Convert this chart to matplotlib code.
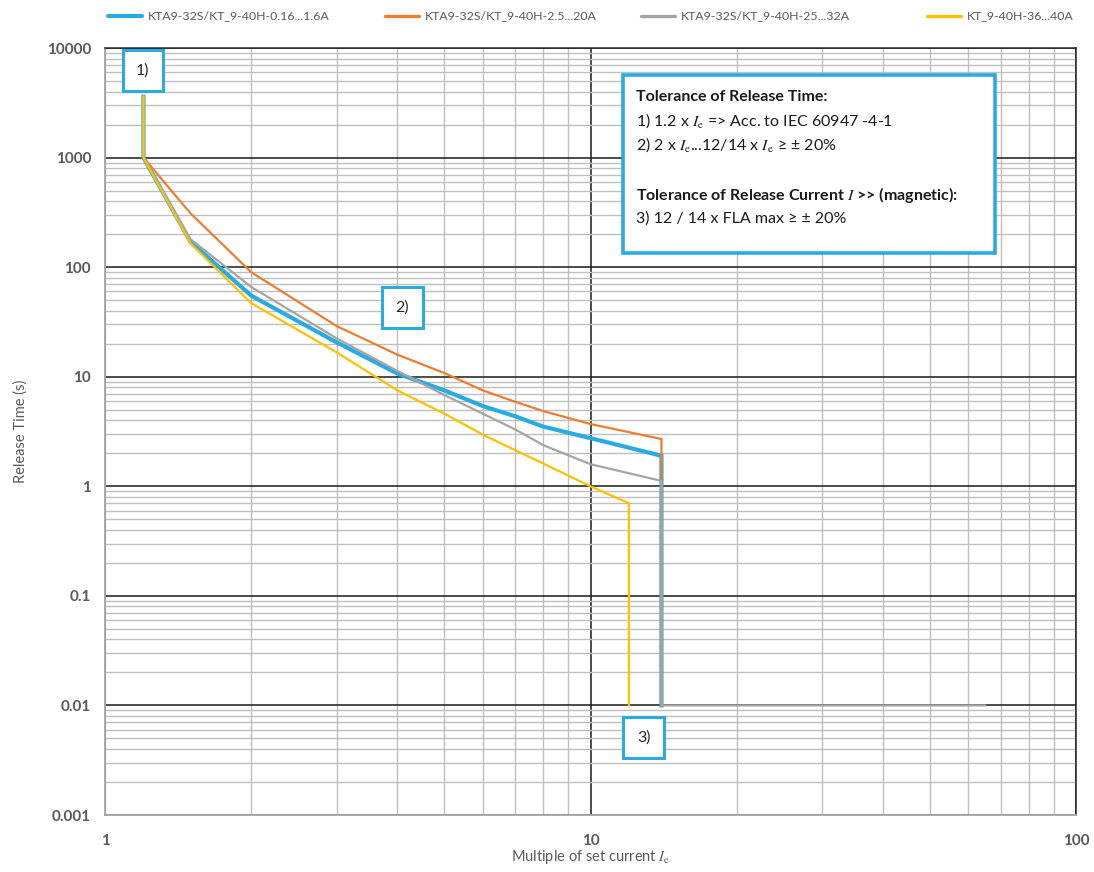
import matplotlib
matplotlib.use("Agg")
import matplotlib.pyplot as plt
from matplotlib.lines import Line2D
from matplotlib.patches import Rectangle
from matplotlib.ticker import LogLocator, FixedLocator, NullFormatter, FixedFormatter

plt.rcParams['font.family'] = ['Lato', 'DejaVu Sans']
plt.rcParams['mathtext.fontset'] = 'stix'

# Release characteristic data: multiple of set current vs release time (s)
labels = ["KTA9-32S/KT_9-40H-0.16...1.6A",
          "KTA9-32S/KT_9-40H-2.5...20A",
          "KTA9-32S/KT_9-40H-25...32A",
          "KT_9-40H-36...40A"]
colors = ["#29abe2", "#ed7d31", "#a5a5a5", "#ffc000"]
widths = [3.0, 1.6, 1.6, 1.6]

x_blue = [1.2, 1.2, 1.5, 2, 3, 4, 5, 6, 7, 8, 10, 14, 14]
t_blue = [3600, 1000, 170, 55, 20.6, 10.7, 7.5, 5.4, 4.35, 3.5, 2.75, 1.9, 0.01]

x_orange = [1.2, 1.2, 1.5, 2, 3, 4, 5, 6, 7, 8, 10, 14, 14]
t_orange = [3600, 1000, 310, 90, 29, 15.9, 10.8, 7.5, 5.9, 4.85, 3.7, 2.7, 0.01]

x_gray = [1.2, 1.2, 1.5, 2, 3, 4, 5, 6, 7, 8, 10, 14, 14, 65]
t_gray = [3600, 1000, 180, 66, 22.4, 11.3, 6.8, 4.6, 3.3, 2.37, 1.59, 1.12, 0.01, 0.01]

x_yellow = [1.2, 1.2, 1.5, 2, 3, 4, 5, 6, 7, 8, 10, 12, 12]
t_yellow = [3600, 1000, 165, 47, 16.7, 7.5, 4.6, 2.96, 2.13, 1.61, 1.0, 0.7, 0.01]

series_x = [x_blue, x_orange, x_gray, x_yellow]
series_t = [t_blue, t_orange, t_gray, t_yellow]

x_ticks = [1, 10, 100]
y_ticks = [0.001, 0.01, 0.1, 1, 10, 100, 1000, 10000]
y_tick_labels = ["0.001", "0.01", "0.1", "1", "10", "100", "1000", "10000"]

W, H = 1094, 872
fig = plt.figure(figsize=(W / 100, H / 100), dpi=100)
ax = fig.add_axes([105 / W, 57 / H, 971 / W, 767 / H])
ax.set_xscale('log')
ax.set_yscale('log')
ax.set_xlim(1, 100)
ax.set_ylim(0.001, 10000)

# grid lines
ax.xaxis.set_major_locator(FixedLocator(x_ticks))
ax.xaxis.set_major_formatter(FixedFormatter([str(v) for v in x_ticks]))
ax.yaxis.set_major_locator(FixedLocator(y_ticks))
ax.yaxis.set_major_formatter(FixedFormatter(y_tick_labels))
ax.xaxis.set_minor_locator(LogLocator(base=10, subs=range(2, 10)))
ax.yaxis.set_minor_locator(LogLocator(base=10, subs=range(2, 10), numticks=20))
ax.xaxis.set_minor_formatter(NullFormatter())
ax.yaxis.set_minor_formatter(NullFormatter())
ax.grid(which='minor', color='#bfbfbf', linewidth=1.0, zorder=0)
ax.grid(which='major', color='#1a1a1a', linewidth=1.1, zorder=0.5)
ax.set_axisbelow(True)
ax.tick_params(which='both', length=0)
ax.tick_params(axis='both', labelsize=11, labelcolor='#595959')
ax.tick_params(axis='y', pad=10)
ax.tick_params(axis='x', pad=14)
for lab in ax.get_xticklabels() + ax.get_yticklabels():
    lab.set_fontweight('bold')
for side in ['left', 'bottom']:
    ax.spines[side].set_color('#a6a6a6')
    ax.spines[side].set_linewidth(1.3)
for side in ['top', 'right']:
    ax.spines[side].set_color('#262626')
    ax.spines[side].set_linewidth(1.1)

for xs, ts, c, w, lab in zip(series_x, series_t, colors, widths, labels):
    ax.plot(xs, ts, color=c, linewidth=w, label=lab, zorder=3,
            solid_joinstyle='miter')

ax.set_xlabel(r"Multiple of set current $I_{\mathrm{e}}$", fontsize=10.5,
              color='#595959', labelpad=0)
ax.set_ylabel("Release Time (s)", fontsize=10.5, color='#595959', labelpad=14)

# legend row along the top edge
legend_handle_x = [108, 385, 641, 927]
legend_y = (H - 16) / H
for lx, c, w, lab in zip(legend_handle_x, colors, widths, labels):
    fig.add_artist(Line2D([lx / W, (lx + 34) / W], [legend_y, legend_y],
                          transform=fig.transFigure, color=c,
                          linewidth=max(w, 2.4), solid_capstyle='round'))
    fig.text((lx + 40) / W, legend_y, lab, fontsize=8.9, color='#595959',
             ha='left', va='center')

# numbered markers
box_style = dict(boxstyle='square,pad=0.85', facecolor='white',
                 edgecolor='#29abe2', linewidth=2.2)
for txt, (bx, by) in zip(["1)", "2)", "3)"],
                         [(1.197, 6250), (4.1, 43), (12.87, 0.0051)]):
    ax.text(bx, by, txt, fontsize=11.5, color='#262626', ha='center',
            va='center', bbox=box_style, zorder=5)

# tolerance note
ax.add_patch(Rectangle((0.5335, 0.7327), 0.3831, 0.2321, transform=ax.transAxes,
                       facecolor='white', edgecolor='#29abe2', linewidth=2.6,
                       zorder=5))
note_x = 0.5465
lines = [
    ("Tolerance of Release Time:", 'bold', 0.936),
    (r"1) 1.2 x $I_{\mathrm{e}}$ => Acc. to IEC 60947 -4-1", 'normal', 0.905),
    (r"2) 2 x $I_{\mathrm{e}}$...12/14 x $I_{\mathrm{e}}$ ≥ ± 20%", 'normal', 0.874),
    (r"Tolerance of Release Current $I$ >> (magnetic):", 'bold', 0.808),
    ("3) 12 / 14 x FLA max ≥ ± 20%", 'normal', 0.777),
]
for txt, wt, yy in lines:
    ax.text(note_x, yy, txt, transform=ax.transAxes, fontsize=11.5,
            fontweight=wt, color='#1a1a1a', ha='left', va='center', zorder=6)

fig.savefig("out.png", dpi=100)
